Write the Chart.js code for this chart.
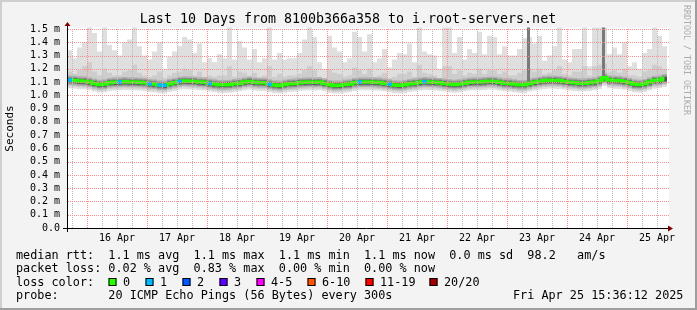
<!DOCTYPE html>
<html>
<head>
<meta charset="utf-8">
<title>Last 10 Days from 8100b366a358 to i.root-servers.net</title>
<script src="https://cdn.jsdelivr.net/npm/chart.js@4.4.1/dist/chart.umd.min.js"></script>
<style>
  html, body { margin: 0; padding: 0; background: #f3f3f3; }
</style>
</head>
<body>
<canvas id="smoke-chart" width="697" height="310"></canvas>
<script>
// one bin = 2 hours, hour 0 = 15 Apr 16:00, values in ms
var median = [
  1.115, 1.112, 1.108, 1.107, 1.100, 1.090, 1.082, 1.085, 1.095, 1.098,
  1.100, 1.102, 1.100, 1.100, 1.098, 1.095, 1.087, 1.085, 1.078, 1.076,
  1.088, 1.095, 1.105, 1.108, 1.106, 1.104, 1.100, 1.098, 1.090, 1.085,
  1.080, 1.080, 1.082, 1.088, 1.092, 1.100, 1.105, 1.098, 1.095, 1.095,
  1.085, 1.078, 1.075, 1.082, 1.088, 1.090, 1.095, 1.098, 1.100, 1.098,
  1.100, 1.092, 1.080, 1.075, 1.076, 1.082, 1.085, 1.095, 1.100, 1.100,
  1.100, 1.098, 1.096, 1.092, 1.085, 1.078, 1.076, 1.080, 1.088, 1.092,
  1.098, 1.102, 1.100, 1.098, 1.095, 1.090, 1.085, 1.082, 1.085, 1.092,
  1.098, 1.100, 1.100, 1.102, 1.106, 1.104, 1.098, 1.092, 1.090, 1.085,
  1.080, 1.080, 1.090, 1.098, 1.105, 1.110, 1.113, 1.112, 1.110, 1.105,
  1.098, 1.095, 1.092, 1.092, 1.095, 1.100, 1.110, 1.132, 1.115, 1.112,
  1.110, 1.105, 1.095, 1.085, 1.082, 1.088, 1.100, 1.112, 1.115, 1.125
];
var smokeMax = [
  1.34, 1.28, 1.36, 1.40, 1.60, 1.47, 1.33, 1.60, 1.38, 1.34,
  1.30, 1.40, 1.42, 1.60, 1.37, 1.30, 1.27, 1.33, 1.40, 1.20,
  1.29, 1.33, 1.37, 1.44, 1.42, 1.32, 1.39, 1.25, 1.28, 1.25,
  1.31, 1.28, 1.60, 1.27, 1.41, 1.36, 1.27, 1.35, 1.25, 1.28,
  1.60, 1.27, 1.32, 1.27, 1.28, 1.28, 1.32, 1.42, 1.60, 1.44,
  1.25, 1.20, 1.45, 1.36, 1.33, 1.25, 1.28, 1.48, 1.44, 1.33,
  1.46, 1.25, 1.28, 1.35, 1.21, 1.27, 1.32, 1.31, 1.39, 1.25,
  1.60, 1.33, 1.31, 1.30, 1.20, 1.60, 1.60, 1.32, 1.44, 1.27,
  1.35, 1.32, 1.48, 1.31, 1.45, 1.44, 1.31, 1.37, 1.30, 1.30,
  1.35, 1.43, 1.44, 1.39, 1.45, 1.26, 1.30, 1.37, 1.60, 1.27,
  1.25, 1.35, 1.35, 1.60, 1.22, 1.60, 1.60, 1.60, 1.31, 1.36,
  1.31, 1.40, 1.22, 1.25, 1.20, 1.32, 1.35, 1.60, 1.45, 1.37
];
var smokeMid = [
  1.18, 1.16, 1.19, 1.22, 1.25, 1.18, 1.15, 1.20, 1.17, 1.15,
  1.15, 1.18, 1.19, 1.23, 1.17, 1.15, 1.14, 1.15, 1.18, 1.13,
  1.15, 1.17, 1.18, 1.20, 1.19, 1.15, 1.18, 1.14, 1.15, 1.14,
  1.15, 1.15, 1.22, 1.14, 1.18, 1.17, 1.15, 1.17, 1.14, 1.15,
  1.22, 1.14, 1.16, 1.14, 1.15, 1.15, 1.16, 1.19, 1.22, 1.19,
  1.14, 1.13, 1.19, 1.17, 1.16, 1.14, 1.15, 1.21, 1.19, 1.16,
  1.20, 1.14, 1.15, 1.17, 1.13, 1.14, 1.16, 1.16, 1.18, 1.14,
  1.23, 1.17, 1.16, 1.15, 1.13, 1.22, 1.22, 1.16, 1.19, 1.15,
  1.17, 1.16, 1.20, 1.16, 1.19, 1.19, 1.16, 1.18, 1.15, 1.15,
  1.17, 1.19, 1.20, 1.18, 1.20, 1.16, 1.17, 1.19, 1.22, 1.16,
  1.15, 1.18, 1.18, 1.22, 1.15, 1.22, 1.23, 1.24, 1.18, 1.19,
  1.17, 1.20, 1.15, 1.15, 1.14, 1.18, 1.19, 1.23, 1.22, 1.20
];
// bins where 1 of 20 pings was lost
var lossOneAt = [0, 10, 16, 18, 19, 22, 28, 40, 58, 64, 71];
// two narrow dark spikes
var spikeHours = [184.6, 214.6];
var spikeLow = [1.09, 1.12];
var spikeHigh = [1.6, 1.6];

var dayLabels = ['16 Apr', '17 Apr', '18 Apr', '19 Apr', '20 Apr', '21 Apr', '22 Apr', '23 Apr', '24 Apr', '25 Apr'];
var titleText = 'Last 10 Days from 8100b366a358 to i.root-servers.net';
var rttRow = 'median rtt:  1.1 ms avg  1.1 ms max  1.1 ms min  1.1 ms now  0.0 ms sd  98.2   am/s';
var lossRow = 'packet loss: 0.02 % avg  0.83 % max  0.00 % min  0.00 % now';
var probeRow = 'probe:       20 ICMP Echo Pings (56 Bytes) every 300s';
var dateText = 'Fri Apr 25 15:36:12 2025';
var lossNames = ['0', '1', '2', '3', '4-5', '6-10', '11-19', '20/20'];
var lossColors = ['#26ff00', '#00b8ff', '#0059ff', '#5e00ff', '#ff00ff', '#ff5500', '#ff0000', '#a10000'];
var lossLabelX = [123, 160, 197, 234, 271, 322, 380, 444];

var MONO = "'DejaVu Sans Mono', monospace";
var GRID_RED = '#ff8c8c';
var GRID_GRAY = '#bababa';
Chart.defaults.font.family = MONO;

function binHour(i) { return i * 2 + 1; }

function smokeBand(color, below, top, order) {
    return {
        type: 'bar',
        data: median.map(function (m, i) {
            var hi = Array.isArray(top) ? top[i] : m + top;
            return { x: binHour(i), y: [m - below, hi] };
        }),
        backgroundColor: color,
        barThickness: 5,
        grouped: false,
        inflateAmount: 0,
        borderWidth: 0,
        clip: { left: 0, top: 1.5, right: 0, bottom: 0 },
        order: order
    };
}

var datasets = [
    {
        type: 'bar',
        data: lossOneAt.map(function (i) {
            return { x: binHour(i), y: [median[i] - 0.013, median[i] + 0.013] };
        }),
        backgroundColor: '#00b8ff',
        barThickness: 5,
        grouped: false,
        inflateAmount: 0,
        order: -1
    },
    {
        type: 'line',
        data: median.map(function (m, i) { return { x: binHour(i), y: m }; }),
        borderColor: '#26ff00',
        borderWidth: 3.5,
        stepped: 'middle',
        pointRadius: 0,
        order: 0
    },
    {
        type: 'bar',
        data: spikeHours.map(function (h, i) { return { x: h, y: [spikeLow[i], spikeHigh[i]] }; }),
        backgroundColor: '#7a7a7a',
        barThickness: 3,
        grouped: false,
        inflateAmount: 0,
        clip: { left: 0, top: 1.5, right: 0, bottom: 0 },
        order: 1
    },
    smokeBand('#505050', 0.018, 0.014, 2),
    smokeBand('#8a8a8a', 0.027, 0.024, 3),
    smokeBand('#b0b0b0', 0.038, 0.036, 4),
    smokeBand('#cdcdcd', 0.048, smokeMid, 5),
    smokeBand('#dfdfdf', 0.062, smokeMax, 6)
];

// dotted rrdtool style grid, placed from the chart's own tick positions
function dottedGrid(chart) {
    var c = chart.ctx, a = chart.chartArea;
    var left = Math.round(a.left), right = Math.round(a.right);
    var top = Math.round(a.top), bottom = Math.round(a.bottom);
    var xs = chart.scales.x, ys = chart.scales.y;
    c.save();
    xs.ticks.forEach(function (t) {
        var px = Math.round(xs.getPixelForValue(t.value));
        c.fillStyle = (t.value - 8) % 24 === 0 ? GRID_RED : GRID_GRAY;
        for (var y = top; y < bottom; y += 2) {
            c.fillRect(px, y, 1, 1);
        }
    });
    ys.ticks.forEach(function (t) {
        if (Math.abs(t.value) < 1e-9) { return; }
        var py = Math.round(ys.getPixelForValue(t.value));
        c.fillStyle = GRID_RED;
        for (var x = left + 1; x < right + 2; x += 2) {
            c.fillRect(x, py, 1, 1);
        }
    });
    c.restore();
}

var framePlugin = {
    id: 'frame',
    beforeDraw: function (chart) {
        var c = chart.ctx, a = chart.chartArea, w = chart.width, h = chart.height;
        c.save();
        c.fillStyle = '#f3f3f3';
        c.fillRect(0, 0, w, h);
        c.fillStyle = '#cfcfcf';
        c.fillRect(0, 0, w, 2);
        c.fillRect(0, 0, 2, h);
        c.fillStyle = '#9e9e9e';
        c.fillRect(0, h - 2, w, 2);
        c.fillRect(w - 2, 0, 2, h);
        c.fillStyle = '#ffffff';
        c.fillRect(a.left, a.top - 1.3, a.right - a.left + 2, a.bottom - a.top + 1.3);
        c.restore();
    },
    afterDatasetsDraw: function (chart) {
        dottedGrid(chart);
    },
    afterDraw: function (chart) {
        var c = chart.ctx, a = chart.chartArea;
        c.save();
        // axes
        c.strokeStyle = '#000';
        c.lineWidth = 1;
        c.beginPath();
        c.moveTo(a.left - 4, a.bottom + 0.5);
        c.lineTo(a.right + 3, a.bottom + 0.5);
        c.moveTo(a.left + 0.5, a.bottom + 4);
        c.lineTo(a.left + 0.5, a.top - 4);
        c.stroke();
        c.fillStyle = '#800000';
        c.beginPath();
        c.moveTo(a.left - 2.5, a.top - 3);
        c.lineTo(a.left + 3.5, a.top - 3);
        c.lineTo(a.left + 0.5, a.top - 7);
        c.fill();
        c.beginPath();
        c.moveTo(a.right + 1, a.bottom - 2.5);
        c.lineTo(a.right + 1, a.bottom + 3.5);
        c.lineTo(a.right + 6, a.bottom + 0.5);
        c.fill();

        // title
        c.fillStyle = '#000';
        c.font = '13.3px ' + MONO;
        c.textAlign = 'center';
        c.textBaseline = 'alphabetic';
        c.fillText(titleText, 348, 23);

        // watermark
        c.save();
        c.translate(686, 5);
        c.rotate(Math.PI / 2);
        c.font = '8.3px ' + MONO;
        c.fillStyle = '#ababab';
        c.textAlign = 'left';
        c.textBaseline = 'middle';
        c.fillText('RRDTOOL / TOBI OETIKER', 0, 0);
        c.restore();

        // legend rows
        c.font = '11.8px ' + MONO;
        c.textAlign = 'left';
        c.fillStyle = '#000';
        c.fillText(rttRow, 16, 258.5);
        c.fillText(lossRow, 16, 272);
        c.fillText('loss color:', 16, 285.5);
        for (var i = 0; i < lossNames.length; i++) {
            var bx = lossLabelX[i] - 14.5;
            c.fillStyle = lossColors[i];
            c.fillRect(bx, 278, 8, 8);
            c.strokeStyle = '#000';
            c.strokeRect(bx + 0.5, 278.5, 7, 7);
            c.fillStyle = '#000';
            c.fillText(lossNames[i], lossLabelX[i], 285.5);
        }
        c.fillText(probeRow, 16, 299);
        c.fillText(dateText, 513, 299);
        c.restore();
    }
};

var ctx = document.getElementById('smoke-chart').getContext('2d');
var chart = new Chart(ctx, {
    type: 'bar',
    data: { datasets: datasets },
    plugins: [framePlugin],
    options: {
        responsive: false,
        animation: false,
        events: [],
        layout: { padding: { left: 0, right: 30, top: 29, bottom: 62 } },
        plugins: {
            legend: { display: false },
            tooltip: { enabled: false }
        },
        scales: {
            x: {
                type: 'linear',
                min: 0,
                max: 240,
                offset: false,
                afterBuildTicks: function (scale) {
                    var ticks = [];
                    for (var h = 2; h <= 240; h += 6) {
                        ticks.push({ value: h });
                    }
                    scale.ticks = ticks;
                },
                afterFit: function (scale) { scale.height = 20; },
                grid: { display: false, offset: false, drawTicks: false },
                border: { display: false },
                ticks: {
                    autoSkip: false,
                    maxRotation: 0,
                    padding: 4,
                    color: '#000',
                    font: { family: MONO, size: 10 },
                    callback: function (value) {
                        if ((value - 20) % 24 === 0) {
                            return dayLabels[(value - 20) / 24];
                        }
                        return '';
                    }
                }
            },
            y: {
                min: 0,
                max: 1.5,
                afterFit: function (scale) { scale.width = 67; },
                grid: { display: false, drawTicks: false },
                border: { display: false },
                ticks: {
                    stepSize: 0.1,
                    autoSkip: false,
                    padding: 7,
                    color: '#000',
                    font: { family: MONO, size: 10 },
                    callback: function (value) {
                        if (Math.abs(value) < 1e-9) {
                            return '0.0';
                        }
                        return value.toFixed(1) + ' m';
                    }
                },
                title: {
                    display: true,
                    text: 'Seconds',
                    color: '#000',
                    font: { family: MONO, size: 11 },
                    padding: { top: 4, bottom: 0 }
                }
            }
        }
    }
});
</script>
</body>
</html>
